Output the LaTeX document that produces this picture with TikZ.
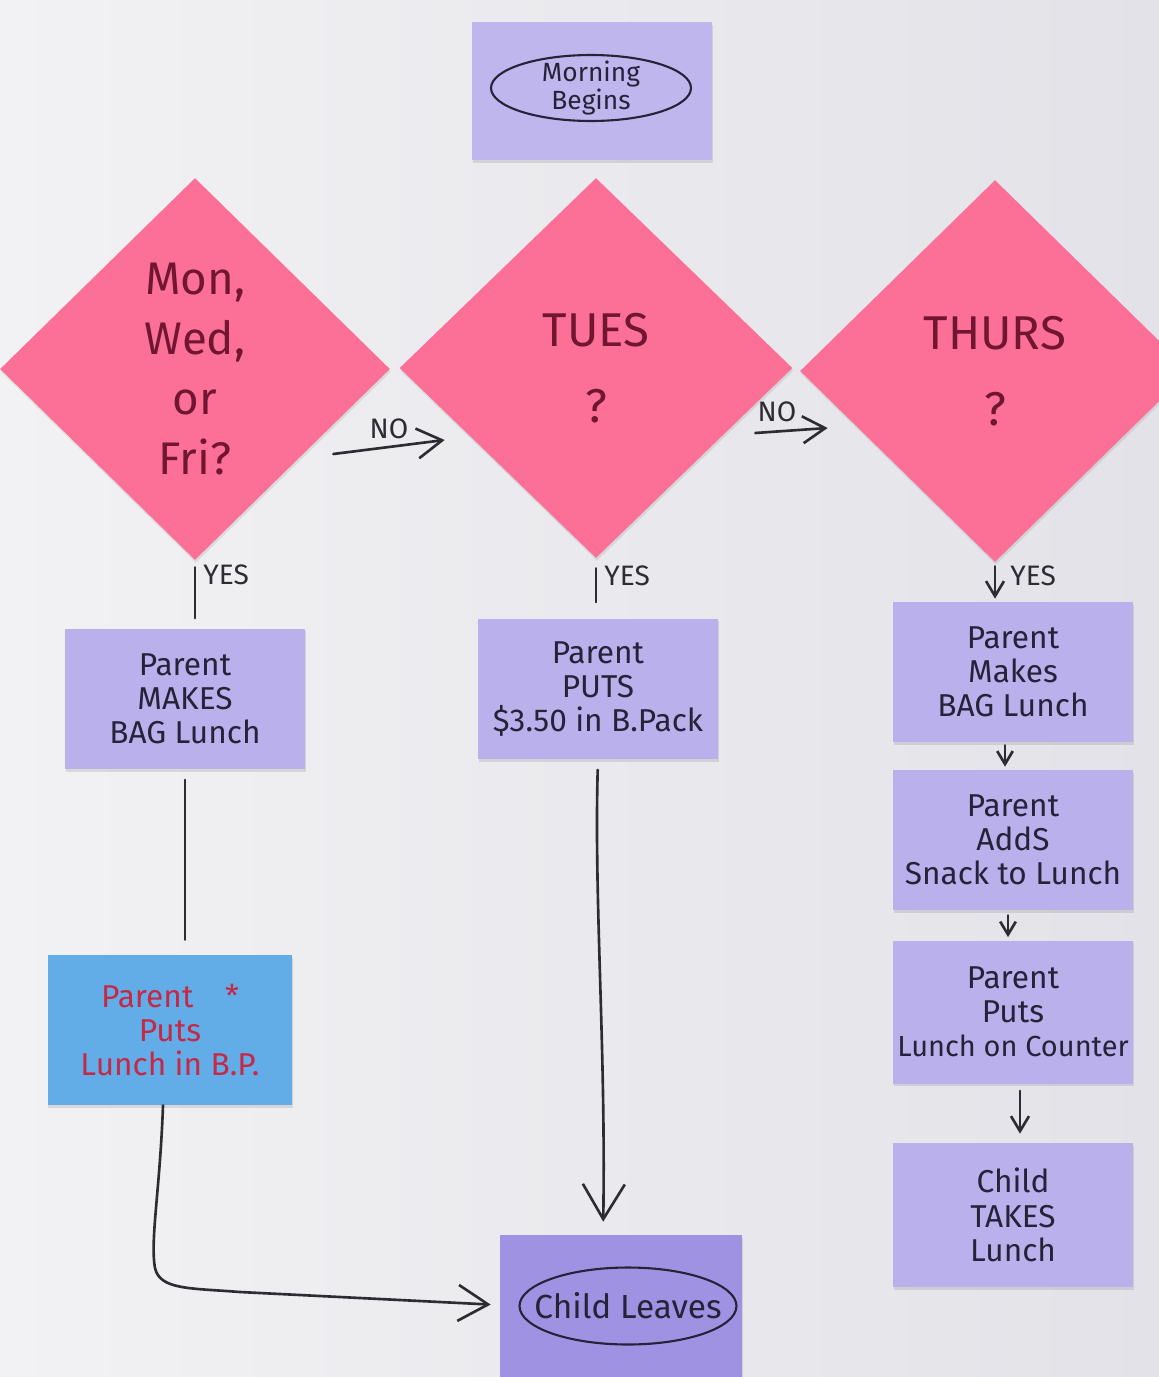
\documentclass[tikz,border=0pt]{standalone}
\usepackage{fontspec}
\setmainfont{Fira Sans}
\usetikzlibrary{shapes.geometric,arrows.meta,shadows}

\definecolor{paperL}{RGB}{242,242,244}
\definecolor{paperR}{RGB}{226,226,232}
\definecolor{lav}{RGB}{186,176,236}
\definecolor{lavdark}{RGB}{160,146,226}
\definecolor{pinknote}{RGB}{252,112,152}
\definecolor{bluenote}{RGB}{98,172,232}
\definecolor{ink}{RGB}{38,34,56}
\definecolor{dinkred}{RGB}{112,22,48}
\definecolor{redink}{RGB}{196,42,70}
\definecolor{pen}{RGB}{44,44,50}

\tikzset{
  note/.style={rectangle, fill=lav, minimum width=4.8cm, minimum height=2.82cm,
    inner sep=2pt, align=center, text=ink,
    font=\fontsize{18}{19.5}\selectfont,
    drop shadow={shadow xshift=0.5pt, shadow yshift=-1.6pt, opacity=0.22}},
  dia/.style={diamond, fill=pinknote, inner sep=0pt, align=center, text=dinkred,
    minimum width=7.8cm, minimum height=7.64cm,
    drop shadow={shadow xshift=0.5pt, shadow yshift=-1.6pt, opacity=0.18}},
  ring/.style={ellipse, draw=ink, line width=1.2pt, align=center, text=ink, inner sep=0pt},
  link/.style={draw=pen, line width=1.5pt, line cap=round, line join=round},
  tip/.style={-{Straight Barb[length=#1, width=1.2*#1, line width=1.5pt]}},
  tip/.default=3mm,
  lbl/.style={text=pen, font=\fontsize{16}{16}\selectfont, inner sep=2pt},
}

\begin{document}
\begin{tikzpicture}[x=0.02cm, y=-0.02cm]
  \useasboundingbox (0,0) rectangle (1159,1377);
  \clip (0,0) rectangle (1159,1377);
  \shade[left color=paperL, right color=paperR] (0,0) rectangle (1159,1377);

  % start note
  \node[note, minimum height=2.76cm, fill=lav!92!white] (mb) at (592,91) {};
  \node[ring, minimum width=4cm, minimum height=1.32cm,
        label={[text=ink, align=center, font=\fontsize{15}{14}\selectfont]center:Morning\\Begins}]
        (mbe) at (591,88) {};

  % decision diamonds
  \node[dia, font=\fontsize{26}{34}\selectfont] (d1) at (195,369)
    {Mon,\\Wed,\\or\\Fri?};
  \node[dia, minimum width=7.86cm, minimum height=7.6cm,
        font=\fontsize{27}{43}\selectfont] (d2) at (596,368) {TUES\\?};
  \node[dia, font=\fontsize{27}{43}\selectfont] (d3) at (995,371) {THURS\\?};

  % left column
  \node[note] (l1) at (185,699) {Parent\\MAKES\\BAG Lunch};
  \node[note, fill=bluenote, text=redink, minimum width=4.9cm, minimum height=3cm]
    (l2) at (170,1030) {Parent\quad*\\Puts\\Lunch in B.P.};

  % middle column
  \node[note] (m1) at (598,689) {Parent\\PUTS\\\$3.50 in B.Pack};
  \node[note, fill=lavdark, minimum width=4.84cm, minimum height=3cm] (cl) at (621,1310) {};
  \node[ring, minimum width=4.34cm, minimum height=1.54cm,
        label={[text=ink, font=\fontsize{19}{19}\selectfont]center:Child Leaves}]
        (cle) at (628,1306) {};

  % right column
  \node[note, minimum height=2.8cm] (r1) at (1013,672) {Parent\\Makes\\BAG Lunch};
  \node[note, minimum height=2.8cm] (r2) at (1013,840) {Parent\\AddS\\Snack to Lunch};
  \node[note, minimum height=2.86cm] (r3) at (1013,1012)
    {Parent\\Puts\\{\fontsize{16.5}{19.5}\selectfont Lunch on Counter}};
  \node[note, minimum height=2.88cm] (r4) at (1013,1215) {Child\\TAKES\\Lunch};

  % NO branches
  \draw[link, tip=5mm] ([xshift=-1.14cm, yshift=-1.7cm]d1.east)
    -- node[lbl, above=2pt, pos=0.5] {NO} ([xshift=0.91cm, yshift=-1.44cm]d2.west);
  \draw[link, tip=4.5mm] ([xshift=-0.75cm, yshift=-1.3cm]d2.east)
    -- node[lbl, above=3pt, pos=0.3] {NO} ([xshift=0.56cm, yshift=-1.14cm]d3.west);

  % YES branches
  \draw[link, shorten <=0.14cm, shorten >=0.2cm] (d1.south)
    -- node[lbl, right=2pt, pos=0.22] {YES} (d1.south |- l1.north);
  \draw[link, shorten <=0.2cm, shorten >=0.32cm] (d2.south)
    -- node[lbl, right=2pt, pos=0.3] {YES} (d2.south |- m1.north);
  \draw[link, tip=3mm, shorten <=0.08cm, shorten >=0.06cm] (d3.south)
    -- node[lbl, right=6pt, pos=0.35] {YES} (d3.south |- r1.north);

  % left column flow
  \draw[link, shorten <=0.2cm, shorten >=0.3cm] (l1.south) -- (l1.south |- l2.north);
  \draw[link, tip=6mm, shorten >=0.18cm] ([xshift=-0.14cm]l2.south)
    .. controls (160,1190) and (150,1240) .. (155,1268)
    .. controls (160,1290) and (190,1288) .. (240,1292)
    -- ([yshift=0.1cm]cl.west);

  % middle column flow
  \draw[link, tip=7mm, shorten <=0.2cm, shorten >=0.26cm] (m1.south)
    .. controls (594,900) and (606,1050) .. ([xshift=0.1cm]m1.south |- cl.north);

  % right column flow
  \draw[link, tip=2.6mm, shorten <=0.06cm, shorten >=0.06cm]
    ([xshift=-0.16cm]r1.south) -- ([xshift=-0.16cm]r2.north);
  \draw[link, tip=2.6mm, shorten <=0.1cm, shorten >=0.06cm]
    ([xshift=-0.1cm]r2.south) -- ([xshift=-0.1cm]r3.north);
  \draw[link, tip=3mm, shorten <=0.14cm, shorten >=0.18cm]
    ([xshift=0.14cm]r3.south) -- ([xshift=0.14cm]r4.north);
\end{tikzpicture}
\end{document}
